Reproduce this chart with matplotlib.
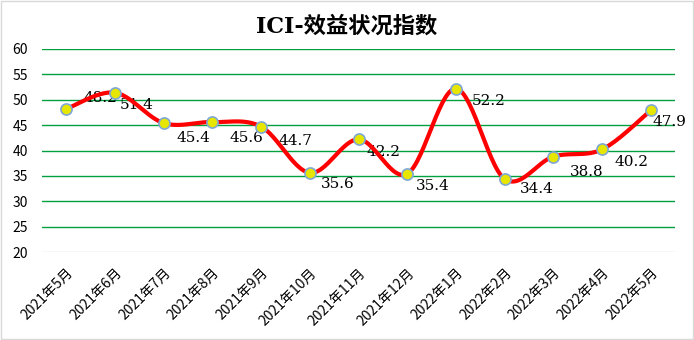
import numpy as np
import matplotlib
matplotlib.use("Agg")
import matplotlib.pyplot as plt

plt.rcParams['font.family'] = ['Noto Sans CJK SC', 'DejaVu Sans']

# monthly index values
months = ["2021年5月", "2021年6月", "2021年7月", "2021年8月", "2021年9月",
          "2021年10月", "2021年11月", "2021年12月", "2022年1月", "2022年2月",
          "2022年3月", "2022年4月", "2022年5月"]
values = [48.2, 51.4, 45.4, 45.6, 44.7, 35.6, 42.2, 35.4, 52.2, 34.4, 38.8, 40.2, 47.9]
yticks = [20, 25, 30, 35, 40, 45, 50, 55, 60]

# label offsets from each point, in pixels (left edge, vertical)
label_dx = [17, 5, 13, 17, 17, 11, 8, 9, 16, 15, 17, 13, 2]
label_dy = [11, -12, -15, -16, -14, -11, -13, -12, -12, -10, -15, -13, -12]


def smooth(x, y, steps=30):
    # Catmull-Rom style smoothing between the points
    x = np.asarray(x, float)
    y = np.asarray(y, float)
    px = np.concatenate([[x[0]], x, [x[-1]]])
    py = np.concatenate([[y[0]], y, [y[-1]]])
    xs, ys = [], []
    for i in range(1, len(px) - 2):
        p0, p1, p2, p3 = (np.array([px[j], py[j]]) for j in (i - 1, i, i + 1, i + 2))
        c1 = p1 + (p2 - p0) / 6
        c2 = p2 - (p3 - p1) / 6
        t = np.linspace(0, 1, steps)[:, None]
        pts = ((1 - t) ** 3) * p1 + 3 * ((1 - t) ** 2) * t * c1 + 3 * (1 - t) * t ** 2 * c2 + t ** 3 * p2
        xs.append(pts[:, 0])
        ys.append(pts[:, 1])
    return np.concatenate(xs), np.concatenate(ys)


fig = plt.figure(figsize=(6.94, 3.40), dpi=100)
ax = fig.add_axes([42 / 694, 1 - 252 / 340, 633 / 694, 203 / 340])

x = np.arange(len(values))
sx, sy = smooth(x, values)
ax.plot(sx, sy, color='#ff0000', lw=3, solid_capstyle='round', zorder=3)
ax.plot(x, values, 'o', ms=8, mfc='#e6e600', mec='#7fa7d6', mew=1.2, zorder=4)

# value labels sit under the line
for i, v in enumerate(values):
    ax.annotate(f"{v:.1f}", (i, v), xytext=(label_dx[i], label_dy[i]), textcoords='offset pixels',
                ha='left', va='center', fontsize=11, family='DejaVu Serif', zorder=2,
                annotation_clip=False)

ax.set_xlim(-0.5, len(values) - 0.5)
ax.set_ylim(20, 60)
ax.set_yticks(yticks)
ax.set_yticklabels([str(t) for t in yticks], fontsize=10)
for t in yticks[1:]:
    ax.axhline(t, color='#00a040', lw=1, zorder=1)
ax.axhline(20, color='#d9d9d9', lw=1, zorder=1)
ax.set_xticks(x)
ax.set_xticklabels(months, rotation=45, ha='right', va='top', rotation_mode='anchor', fontsize=10)
ax.tick_params(axis='x', length=0, pad=10)
ax.tick_params(axis='y', length=0, pad=10)
for s in ax.spines.values():
    s.set_visible(False)

fig.text(0.5, 1 - 27 / 340, "ICI-效益状况指数", ha='center', va='center',
         fontsize=16, fontweight='bold', family=['DejaVu Serif', 'Noto Sans CJK SC'])
fig.patches.append(plt.Rectangle((0.002, 0.003), 0.996, 0.994, transform=fig.transFigure,
                                 fill=False, ec='#d9d9d9', lw=1))

fig.savefig("out.png", dpi=100)
